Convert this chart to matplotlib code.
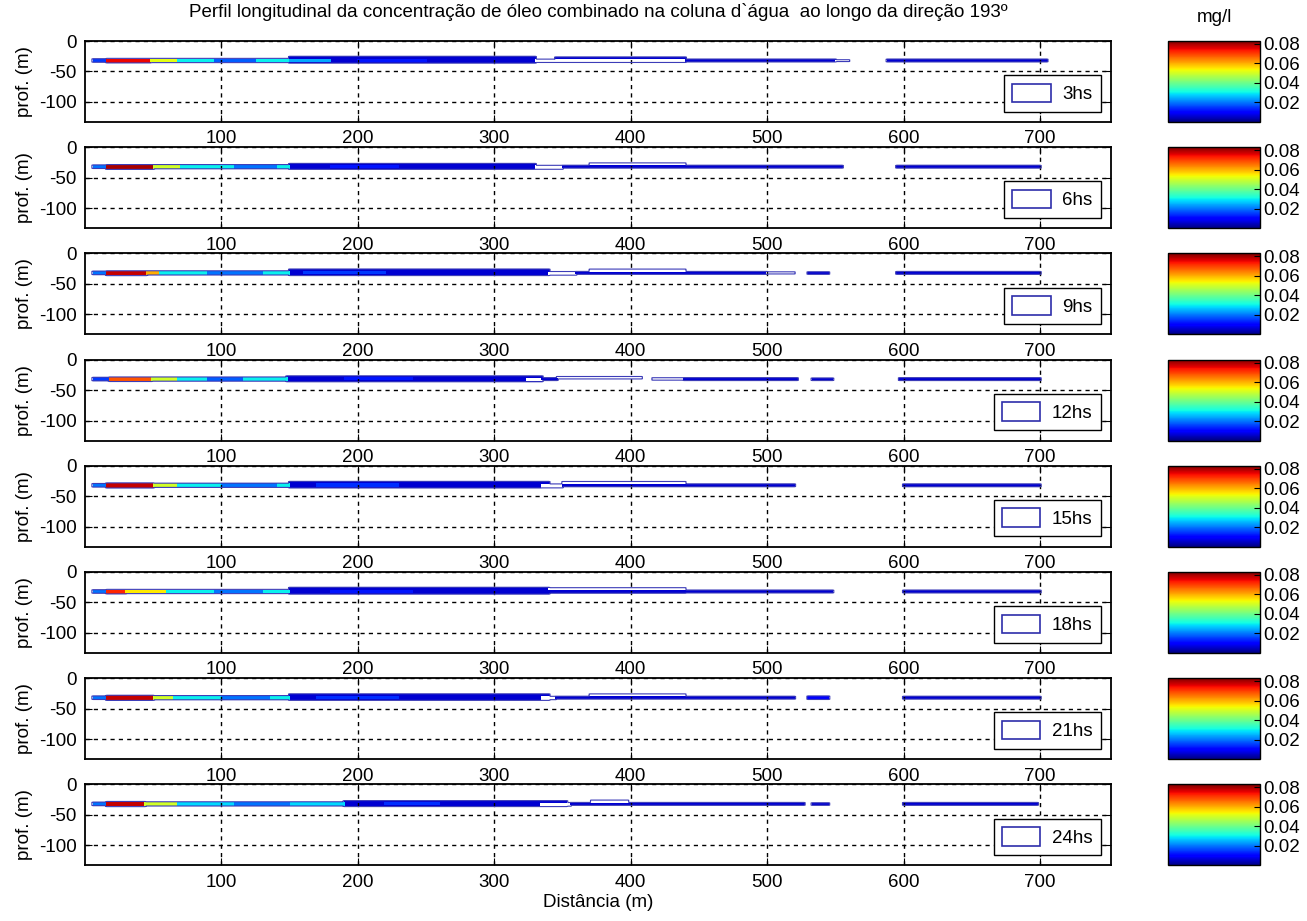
import numpy as np
import matplotlib
matplotlib.use("Agg")
import matplotlib.pyplot as plt
from matplotlib.patches import Patch
from matplotlib.colors import Normalize
from matplotlib.cm import ScalarMappable

plt.rcParams["font.family"] = ["Liberation Sans", "DejaVu Sans"]
plt.rcParams["axes.unicode_minus"] = False

title = "Perfil longitudinal da concentração de óleo combinado na coluna d`água  ao longo da direção 193º"
labels = ["3hs", "6hs", "9hs", "12hs", "15hs", "18hs", "21hs", "24hs"]
x_ticks = [100, 200, 300, 400, 500, 600, 700]
y_ticks = [0, -50, -100]
cbar_ticks = [0.02, 0.04, 0.06, 0.08]
c_max = 0.083

# plume patches per time: (x start, x end, top depth, bottom depth, conc mg/l)
plume_3h = [
    (150, 330, -25.5, -36, 0.006), (6, 16, -29.5, -34.5, 0.015), (16, 48, -29, -35.5, 0.075),
    (48, 68, -29, -35, 0.052), (68, 150, -29, -35, 0.03), (95, 125, -29, -35, 0.018),
    (150, 180, -29, -34, 0.024), (200, 250, -29, -34, 0.012), (330, 345, -30, -35, 0.002),
    (345, 440, -26.5, -29.5, 0.006), (345, 440, -29.5, -35, 0.002), (440, 550, -30, -34, 0.006),
    (550, 560, -31, -33.5, 0.002), (588, 705, -30, -34, 0.006),
]
plume_6h = [
    (150, 330, -27, -36, 0.006), (6, 16, -29.5, -34.5, 0.02), (16, 50, -29, -36, 0.08),
    (50, 70, -29, -35, 0.05), (70, 150, -29, -35, 0.03), (110, 140, -29, -35, 0.02),
    (180, 230, -29, -34, 0.012), (330, 350, -30, -36, 0.002), (370, 440, -26, -29.5, 0.002),
    (350, 555, -30, -34, 0.006), (595, 700, -30, -34, 0.006),
]
plume_9h = [
    (150, 340, -26, -36, 0.006), (6, 16, -29.5, -34.5, 0.02), (16, 45, -29, -36, 0.078),
    (45, 55, -29, -35, 0.06), (55, 150, -29, -35, 0.03), (90, 130, -29, -35, 0.02),
    (160, 220, -29, -34, 0.015), (340, 360, -30, -35.5, 0.002), (370, 440, -26, -29.5, 0.002),
    (360, 500, -30, -34, 0.006), (500, 520, -30.5, -33.5, 0.002), (530, 545, -30.5, -34, 0.006),
    (595, 700, -30, -34, 0.006),
]
plume_12h = [
    (148, 335, -27, -36, 0.006), (6, 18, -29.5, -34.5, 0.015), (18, 49, -29, -35.5, 0.068),
    (49, 68, -29, -35, 0.05), (68, 148, -29, -35, 0.03), (90, 115, -29, -35, 0.018),
    (190, 240, -29, -34, 0.012), (324, 335, -30, -35.5, 0.002), (346, 408, -28, -31.5, 0.002),
    (416, 439, -30, -33.5, 0.002), (335, 346, -30, -34, 0.006), (439, 522, -30, -34, 0.006),
    (533, 548, -30.5, -34, 0.006), (597, 700, -30, -34, 0.006),
]
plume_15h = [
    (150, 340, -26, -36, 0.006), (6, 16, -29.5, -34.5, 0.02), (16, 50, -28.5, -36, 0.078),
    (50, 68, -29, -35, 0.05), (68, 150, -29, -35, 0.03), (100, 140, -29, -35, 0.02),
    (170, 230, -29, -34, 0.014), (335, 350, -30, -36, 0.002), (350, 440, -26, -29.5, 0.002),
    (350, 520, -30, -34, 0.006), (600, 700, -30, -34, 0.006),
]
plume_18h = [
    (150, 340, -25.5, -36, 0.006), (6, 16, -29.5, -34.5, 0.02), (16, 30, -29, -35.5, 0.072),
    (30, 60, -29, -35, 0.055), (60, 150, -29, -35, 0.03), (95, 130, -29, -35, 0.02),
    (180, 240, -29, -34, 0.012), (340, 440, -26, -29.5, 0.002), (340, 440, -29.5, -34.5, 0.006),
    (440, 548, -30, -34, 0.006), (600, 700, -30, -34, 0.006),
]
plume_21h = [
    (150, 340, -26, -36, 0.006), (6, 16, -29.5, -34.5, 0.02), (16, 50, -28.5, -36, 0.078),
    (50, 65, -29, -35, 0.05), (65, 150, -29, -35, 0.03), (100, 135, -29, -35, 0.02),
    (170, 230, -29, -34, 0.014), (335, 345, -30, -35, 0.002), (370, 440, -26, -29.5, 0.002),
    (345, 520, -30, -34, 0.006), (530, 545, -29.5, -34.5, 0.01), (600, 700, -30, -34, 0.006),
]
plume_24h = [
    (190, 353, -27, -36, 0.006), (6, 16, -29.5, -34.5, 0.02), (16, 44, -28.5, -36, 0.078),
    (44, 68, -29, -35, 0.05), (68, 190, -29, -35, 0.028), (110, 150, -29, -35, 0.02),
    (220, 260, -29, -34, 0.014), (334, 356, -30, -35.5, 0.002), (371, 398, -26, -29.5, 0.002),
    (356, 527, -30, -34, 0.006), (533, 545, -30.5, -34, 0.006), (600, 698, -30, -34, 0.006),
]
plumes = [plume_3h, plume_6h, plume_9h, plume_12h, plume_15h, plume_18h, plume_21h, plume_24h]


def build_field(segs, x, z):
    X, Z = np.meshgrid(x, z)
    f = np.zeros_like(X)
    for x0, x1, top, bot, c in segs:
        m = (X >= x0) & (X <= x1) & (Z <= top) & (Z >= bot)
        f[m] = c
    return f


def main():
    W, H = 1307, 921
    fig = plt.figure(figsize=(W / 100, H / 100), dpi=100)
    x = np.arange(0, 753, 1.0)
    z = np.arange(-133, 0.5, 0.5)
    norm = Normalize(0, c_max)
    cmap = plt.get_cmap("jet")

    for i, (segs, lab) in enumerate(zip(plumes, labels)):
        top_px = 41 + 106.2 * i
        ax = fig.add_axes([85 / W, 1 - (top_px + 81) / H, 1026 / W, 81 / H])
        f = build_field(segs, x, z)
        ax.pcolormesh(x, z, np.ma.masked_less(f, 0.003), cmap=cmap, norm=norm, shading="nearest")
        ax.contour(x, z, f, levels=[0.001], colors="#3c3cb8", linewidths=0.8)

        ax.set_xlim(0, 752)
        ax.set_ylim(-133, 0)
        ax.set_xticks(x_ticks)
        ax.set_yticks(y_ticks)
        ax.set_yticklabels([str(v) for v in y_ticks])
        ax.tick_params(direction="in", top=True, right=True, length=5, labelsize=13.5, pad=6)
        ax.grid(True, color="black", linestyle=(0, (3, 3)), linewidth=1)
        for s in ax.spines.values():
            s.set_linewidth(1.3)
        ax.set_ylabel("prof. (m)", fontsize=13.5)
        if i == 0:
            ax.set_title(title, fontsize=13.5, pad=17)
        if i == len(plumes) - 1:
            ax.set_xlabel("Distância (m)", fontsize=13.5, labelpad=2)

        h = Patch(facecolor="white", edgecolor="#2e2eaa", linewidth=1.2)
        leg = ax.legend([h], [lab], loc="lower right", fontsize=13.5, fancybox=False,
                        framealpha=1, edgecolor="black", borderpad=0.45,
                        handlelength=2.05, handleheight=1.15, handletextpad=0.6,
                        borderaxespad=0.55)
        leg.get_frame().set_linewidth(1.0)

        cax = fig.add_axes([1168 / W, 1 - (top_px + 81) / H, 92 / W, 81 / H])
        cb = fig.colorbar(ScalarMappable(norm=norm, cmap=cmap), cax=cax)
        cb.set_ticks(cbar_ticks)
        cb.set_ticklabels(["%.2f" % v for v in cbar_ticks])
        cax.tick_params(direction="in", length=4, labelsize=13.5, pad=2)
        cb.outline.set_linewidth(1.0)
        if i == 0:
            cax.set_title("mg/l", fontsize=13.5, pad=14)

    fig.savefig("out.png", dpi=100)


if __name__ == "__main__":
    main()
